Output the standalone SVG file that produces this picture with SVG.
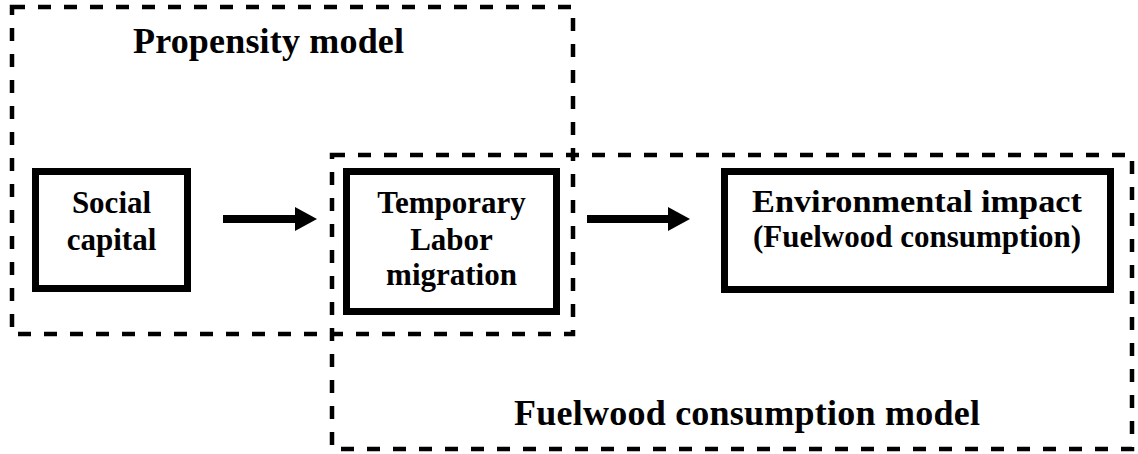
<svg xmlns="http://www.w3.org/2000/svg" width="1138" height="454" viewBox="0 0 1138 454">
<style>
.region{fill:none;stroke:#000;stroke-width:4.5;stroke-dasharray:13 13}
.node{fill:#fff;stroke:#000;stroke-width:7}
text{font-family:'Liberation Serif',Tinos,'Times New Roman',Times,serif;font-weight:700;fill:#000;text-anchor:middle}
.nt{font-size:31px}
.title{font-size:36px}
.conn{stroke:#000;stroke-width:8;fill:none}
</style>
<defs>
<marker id="ah" markerUnits="userSpaceOnUse" markerWidth="22" markerHeight="24" refX="0" refY="12" orient="auto">
<path d="M0,0 L22,12 L0,24 Z" fill="#000"/>
</marker>
</defs>
<g id="propensity-region">
<rect class="region" x="12" y="7" width="561" height="327"/>
<text class="title" x="268.5" y="53" textLength="271">Propensity model</text>
</g>
<g id="fuelwood-region">
<rect class="region" x="332" y="155" width="800" height="294"/>
<text class="title" x="747" y="425" textLength="466">Fuelwood consumption model</text>
</g>
<g id="social-capital">
<rect class="node" x="35.5" y="171.5" width="152" height="117"/>
<text class="nt" x="111.5" y="213">Social</text>
<text class="nt" x="111.5" y="250">capital</text>
</g>
<g id="temporary-labor-migration">
<rect class="node" x="346.5" y="171.5" width="210" height="140"/>
<text class="nt" x="451.5" y="213">Temporary</text>
<text class="nt" x="451.5" y="250">Labor</text>
<text class="nt" x="451.5" y="285">migration</text>
</g>
<g id="environmental-impact">
<rect class="node" x="724.5" y="171.5" width="386" height="118"/>
<text class="nt" x="917" y="212" textLength="330" lengthAdjust="spacingAndGlyphs">Environmental impact</text>
<text class="nt" x="917" y="247">(Fuelwood consumption)</text>
</g>
<g id="connectors">
<line class="conn" x1="223" y1="219" x2="295" y2="219" marker-end="url(#ah)"/>
<line class="conn" x1="587" y1="219" x2="668" y2="219" marker-end="url(#ah)"/>
</g>
</svg>
